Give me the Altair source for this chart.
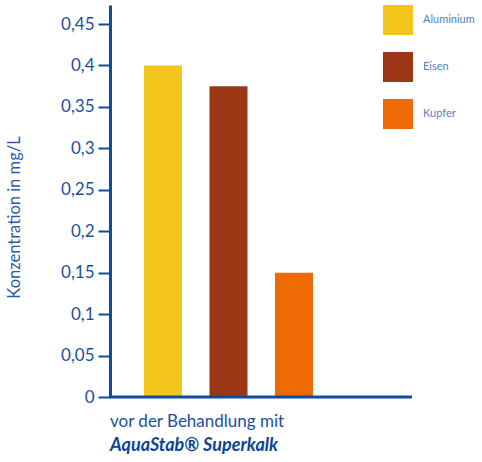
import altair as alt
import pandas as pd

metals = ["Aluminium", "Eisen", "Kupfer"]
values = [0.4, 0.375, 0.15]
colors = ["#F4C51B", "#9C3715", "#EE6A05"]
y_ticks = [0, 0.05, 0.1, 0.15, 0.2, 0.25, 0.3, 0.35, 0.4, 0.45]
line1 = ["vor der Behandlung mit"]
line2 = ["AquaStab® Superkalk"]

FONT = "Lato"
AXIS = "#0d4d9b"
LABEL = "#1b4f9e"

df = pd.DataFrame({"metal": metals, "value": values})

bars = alt.Chart(df).mark_bar().encode(
    x=alt.X("metal:N", sort=metals,
            scale=alt.Scale(range=[34, 203], paddingInner=0.42, paddingOuter=0),
            axis=None),
    y=alt.Y("value:Q", scale=alt.Scale(domain=[0, 0.473], nice=False, zero=True),
            axis=alt.Axis(values=y_ticks, grid=False, domainColor=AXIS, domainWidth=3,
                          tickColor=AXIS, tickWidth=2, tickSize=12,
                          labelExpr="replace(toString(datum.value), '.', ',')",
                          labelFont=FONT, labelFontSize=17, labelColor=LABEL,
                          labelPadding=4,
                          title="Konzentration in mg/L", titleFont=FONT,
                          titleFontSize=16.5, titleFontWeight="normal",
                          titleColor="#2a5caa", titleAngle=-90,
                          titleX=-96, titleY=212, titleAlign="center",
                          titleBaseline="middle")),
    color=alt.Color("metal:N", sort=metals,
                    scale=alt.Scale(domain=metals, range=colors),
                    legend=alt.Legend(title=None, orient="none", legendX=273, legendY=0,
                                      symbolType="square", symbolSize=900,
                                      symbolStrokeWidth=0, symbolOpacity=1,
                                      labelFont=FONT, labelFontSize=11,
                                      labelColor="#4f7fbf", labelOffset=10,
                                      rowPadding=17, padding=0)),
)

base_line = alt.Chart(pd.DataFrame({"v": [0]})).mark_rule(
    color=AXIS, strokeWidth=3
).encode(x=alt.value(0), x2=alt.value(302), y=alt.value(392))

t1 = alt.Chart(pd.DataFrame({"t": line1})).mark_text(
    align="left", baseline="alphabetic", font=FONT, fontSize=17, color=LABEL
).encode(x=alt.value(0), y=alt.value(422), text="t:N")

t2 = alt.Chart(pd.DataFrame({"t": line2})).mark_text(
    align="left", baseline="alphabetic", font=FONT, fontSize=18, color="#0d4590",
    fontWeight="bold", fontStyle="italic"
).encode(x=alt.value(0), y=alt.value(446), text="t:N")

chart = alt.layer(bars, base_line, t1, t2).properties(
    width=302, height=392,
    autosize=alt.AutoSizeParams(type="none"),
    padding={"left": 110, "top": 5, "right": 70, "bottom": 65},
).configure_view(stroke=None)

chart.save("out.html", embed_options={"renderer": "svg", "actions": False})
